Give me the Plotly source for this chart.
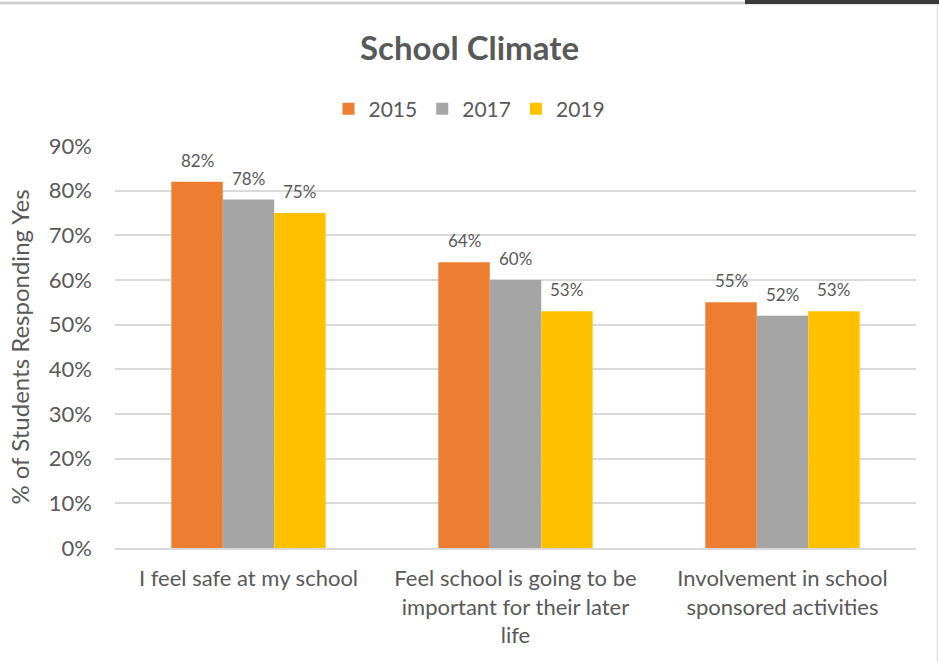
import plotly.graph_objects as go

# Survey items and yearly results (% of students responding yes)
categories = [
    "I feel safe at my school",
    "Feel school is going to be<br>important for their later<br>life",
    "Involvement in school<br>sponsored activities",
]
years = ["2015", "2017", "2019"]
values_2015 = [82, 64, 55]
values_2017 = [78, 60, 52]
values_2019 = [75, 53, 53]
y_ticks = [0, 10, 20, 30, 40, 50, 60, 70, 80, 90]

series = [values_2015, values_2017, values_2019]
colors = ["#ED7D31", "#A5A5A5", "#FFC000"]
text_color = "#595959"
font_family = "Lato, 'Open Sans', sans-serif"

W, H = 939, 662
margin = dict(l=115, r=23, t=146, b=114, autoexpand=False)
bargap = 0.422
bar_w = (1 - bargap) / len(series)

x_pos = list(range(len(categories)))

fig = go.Figure()
for name, vals, col in zip(years, series, colors):
    fig.add_trace(go.Bar(
        x=x_pos, y=vals, name=name,
        marker=dict(color=col, line=dict(width=0)),
        hoverinfo="y+name",
    ))

# value labels above each bar
annotations = []
for j, vals in enumerate(series):
    offset = (j - (len(series) - 1) / 2) * bar_w
    for i, v in enumerate(vals):
        annotations.append(dict(
            x=x_pos[i] + offset, y=v, xref="x", yref="y",
            text=f"{v}%", showarrow=False,
            yanchor="bottom", yshift=9,
            font=dict(family=font_family, size=17, color=text_color),
        ))

# thin frame lines along the top and right edges of the page
plot_w = W - margin["l"] - margin["r"]
plot_h = H - margin["t"] - margin["b"]
def px_x(p):
    return (p - margin["l"]) / plot_w
def px_y(p):
    return (H - margin["b"] - p) / plot_h

shapes = [
    dict(type="line", xref="paper", yref="paper",
         x0=px_x(0), x1=px_x(W), y0=px_y(3), y1=px_y(3),
         line=dict(color="#D0D0D0", width=3)),
    dict(type="rect", xref="paper", yref="paper",
         x0=px_x(745), x1=px_x(W), y0=px_y(0), y1=px_y(4),
         fillcolor="#3A3A3A", line=dict(width=0)),
    dict(type="line", xref="paper", yref="paper",
         x0=px_x(937.5), x1=px_x(937.5), y0=px_y(4), y1=px_y(H),
         line=dict(color="#E0E0E0", width=1.5)),
]

fig.update_layout(
    width=W, height=H,
    margin=margin,
    paper_bgcolor="white", plot_bgcolor="white",
    barmode="group", bargap=bargap, bargroupgap=0,
    title=dict(
        text="<b>School Climate</b>",
        x=0.5, xref="container", xanchor="center",
        y=1 - 48 / H, yref="container", yanchor="middle",
        font=dict(family=font_family, size=33, color=text_color),
    ),
    legend=dict(
        orientation="h", x=0.5, xref="container", xanchor="center",
        y=1 - 109 / H, yref="container", yanchor="middle",
        font=dict(family=font_family, size=21, color=text_color),
        itemsizing="constant", itemwidth=30, traceorder="normal",
    ),
    xaxis=dict(
        tickmode="array", tickvals=x_pos, ticktext=categories,
        range=[-0.5, len(categories) - 0.5],
        showgrid=False, zeroline=False,
        showline=True, linecolor="#D9D9D9", linewidth=1.5,
        ticks="", ticklabelstandoff=10,
        tickfont=dict(family=font_family, size=22, color=text_color),
    ),
    yaxis=dict(
        range=[0, 90], tickvals=y_ticks,
        ticktext=[f"{t}%" for t in y_ticks],
        showgrid=True, gridcolor="#D9D9D9", gridwidth=1.5,
        zeroline=False, showline=False, ticks="",
        ticklabelstandoff=22,
        tickfont=dict(family=font_family, size=22, color=text_color),
        title=dict(text="% of Students Responding Yes", standoff=12,
                   font=dict(family=font_family, size=24, color=text_color)),
    ),
    annotations=annotations,
    shapes=shapes,
    showlegend=True,
)

fig.write_html("out.html")
